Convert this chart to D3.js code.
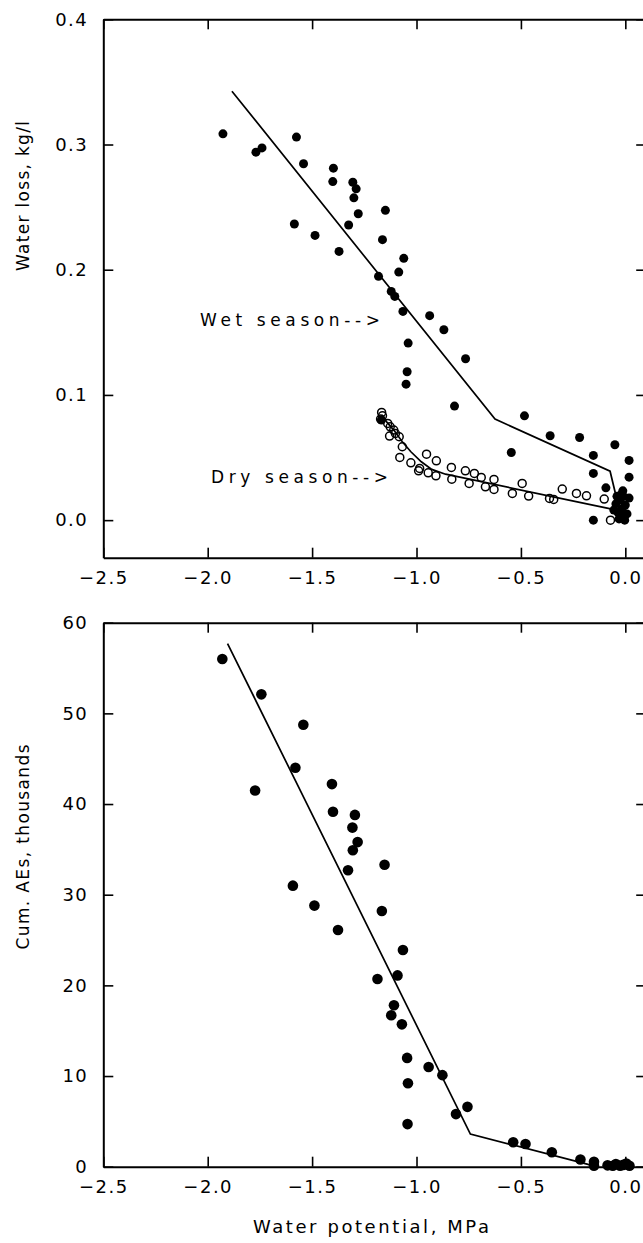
<!DOCTYPE html>
<html><head><meta charset="utf-8">
<script src="https://cdn.jsdelivr.net/npm/d3@7"></script>
<style>
body{margin:0;background:#fff}
svg{display:block}
text{font-family:"DejaVu Sans",sans-serif;fill:#000}
</style>
</head><body>
<svg id="chart" width="643" height="1243"></svg>
<script>
// ---------- data ----------
const xTickValues = [-2.5, -2.0, -1.5, -1.0, -0.5, 0.0];
const lossTickValues = [0.0, 0.1, 0.2, 0.3, 0.4];
const aeTickValues = [0, 10, 20, 30, 40, 50, 60];

// Top panel: wet season (filled) water potential (MPa) / water loss (kg/l)
const wetX = [-1.927,-1.769,-1.740,-1.575,-1.541,-1.398,-1.401,-1.305,-1.289,-1.300,
  -1.279,-1.149,-1.585,-1.325,-1.486,-1.163,-1.371,-1.061,-1.085,-1.182,
  -1.121,-1.104,-1.065,-0.937,-0.869,-1.040,-0.765,-1.045,-1.050,-0.818,
  -0.483,-0.360,-0.219,-0.546,-0.050,-0.153,0.018,-0.153,0.018,-0.093,
  -0.012,0.018,-0.153,-0.003,-1.168,
  -0.045,-0.035,-0.025,-0.015,-0.005,-0.030,0.000,-0.055,-0.010,0.008,-0.040,-0.020];
const wetY = [0.3085,0.2939,0.2973,0.3059,0.2846,0.2811,0.2704,0.2699,0.2646,0.2574,
  0.2447,0.2474,0.2365,0.2357,0.2274,0.2240,0.2146,0.2091,0.1981,0.1947,
  0.1827,0.1787,0.1667,0.1633,0.1521,0.1414,0.1289,0.1185,0.1086,0.0911,
  0.0833,0.0674,0.0660,0.0540,0.0602,0.0517,0.0477,0.0373,0.0343,0.0258,
  0.0234,0.0176,0.0,0.0,0.080,
  0.013,0.006,0.016,0.009,0.003,0.001,0.012,0.008,0.019,0.005,0.019,0.003];

// Top panel: dry season (open)
const dryX = [-1.167,-1.163,-1.172,-1.138,-1.126,-1.109,-1.101,-1.129,-1.083,-1.068,
  -1.080,-1.027,-0.985,-0.990,-0.952,-0.905,-0.944,-0.907,-0.833,-0.831,
  -0.766,-0.748,-0.723,-0.690,-0.629,-0.670,-0.629,-0.541,-0.494,-0.463,
  -0.363,-0.343,-0.302,-0.234,-0.186,-0.101,-0.071,-0.021];
const dryY = [0.0860,0.0833,0.0807,0.0772,0.0745,0.0719,0.0692,0.0671,0.0666,0.0586,
  0.0501,0.0458,0.0413,0.0394,0.0527,0.0474,0.0378,0.0354,0.0421,0.0327,
  0.0394,0.0293,0.0373,0.0341,0.0325,0.0266,0.0245,0.0213,0.0293,0.0192,
  0.0173,0.0165,0.0248,0.0213,0.0194,0.0168,0.0,0.020];

// Fitted lines, top panel
const wetFitX = [-1.884, -0.624, -0.073, -0.030];
const wetFitY = [0.3426, 0.0807, 0.0391, 0.0093];
const dryFitX = [-1.167,-1.143,-1.109,-1.068,-1.027,-0.977,-0.927,-0.861,-0.070];
const dryFitY = [0.0839,0.0785,0.0719,0.0626,0.0546,0.0466,0.0405,0.0367,0.0090];

// Bottom panel: cumulative AEs (thousands)
const aeX = [-1.930,-1.743,-1.542,-1.580,-1.773,-1.405,-1.400,-1.295,-1.307,-1.282,
  -1.305,-1.328,-1.153,-1.592,-1.489,-1.166,-1.376,-1.065,-1.187,-1.091,
  -1.108,-1.121,-1.070,-1.045,-0.942,-0.876,-1.041,-1.043,-0.811,-0.756,
  -0.537,-0.478,-0.352,-0.215,-0.150,-0.150,-0.085,-0.060,-0.045,-0.025,
  -0.010,0.005,0.020];
const aeY = [56.0,52.1,48.75,44.0,41.5,42.2,39.15,38.8,37.4,35.8,
  34.9,32.7,33.3,31.0,28.8,28.2,26.1,23.9,20.7,21.1,
  17.8,16.7,15.7,12.0,11.0,10.1,9.2,4.7,5.8,6.6,
  2.7,2.5,1.6,0.8,0.55,0.1,0.15,0.1,0.3,0.1,
  0.2,0.35,0.1];
const aeFitX = [-1.905, -0.742, -0.160];
const aeFitY = [57.7, 3.6, 0.15];

// ---------- drawing ----------
const svg = d3.select("#chart");
const X0 = 103.3, X1 = 646.2;

function zip(a, b) { return a.map((v, i) => [v, b[i]]); }

function panel(yDomain, yRange, yTicks, yFmt) {
  const x = d3.scaleLinear().domain([-2.5, 0.1]).range([X0, X1]);
  const y = d3.scaleLinear().domain(yDomain).range(yRange);
  const g = svg.append("g");
  const fmtX = d3.format(".1f");

  const bottom = g.append("g").attr("transform", `translate(0,${yRange[0]})`)
    .call(d3.axisBottom(x).tickValues(xTickValues).tickSize(-10).tickSizeOuter(0)
      .tickPadding(14).tickFormat(fmtX));
  const top = g.append("g").attr("transform", `translate(0,${yRange[1]})`)
    .call(d3.axisTop(x).tickValues(xTickValues).tickSize(-10).tickSizeOuter(0).tickFormat(""));
  const left = g.append("g").attr("transform", `translate(${X0},0)`)
    .call(d3.axisLeft(y).tickValues(yTicks).tickSize(-10).tickSizeOuter(0)
      .tickPadding(15).tickFormat(yFmt));
  const right = g.append("g").attr("transform", `translate(${X1},0)`)
    .call(d3.axisRight(y).tickValues(yTicks).tickSize(-10).tickSizeOuter(0).tickFormat(""));

  [bottom, top, left, right].forEach(a => {
    a.select(".domain").attr("stroke", "#000").attr("stroke-width", 2);
    a.selectAll(".tick line").attr("stroke", "#000").attr("stroke-width", 1.6);
    a.selectAll(".tick text").attr("font-size", 18).attr("font-family", '"DejaVu Sans",sans-serif')
      .attr("letter-spacing", "1.5px").attr("fill", "#000");
  });
  return { g, x, y };
}

// Top panel
const P1 = panel([-0.03, 0.4], [557.7, 19.3], lossTickValues, d3.format(".1f"));
const line1 = d3.line().x(d => P1.x(d[0])).y(d => P1.y(d[1]));
P1.g.append("path").datum(zip(wetFitX, wetFitY)).attr("d", line1)
  .attr("fill", "none").attr("stroke", "#000").attr("stroke-width", 1.7);
P1.g.append("path").datum(zip(dryFitX, dryFitY)).attr("d", line1)
  .attr("fill", "none").attr("stroke", "#000").attr("stroke-width", 1.7);
P1.g.append("g").selectAll("circle").data(zip(dryX, dryY)).join("circle")
  .attr("cx", d => P1.x(d[0])).attr("cy", d => P1.y(d[1])).attr("r", 4)
  .attr("fill", "none").attr("stroke", "#000").attr("stroke-width", 1.5);
P1.g.append("g").selectAll("circle").data(zip(wetX, wetY)).join("circle")
  .attr("cx", d => P1.x(d[0])).attr("cy", d => P1.y(d[1])).attr("r", 4.5)
  .attr("fill", "#000");

P1.g.append("text").attr("x", 200).attr("y", 326).attr("font-size", 17)
  .attr("textLength", 180).attr("lengthAdjust", "spacing").text("Wet season-->");
P1.g.append("text").attr("x", 211).attr("y", 483).attr("font-size", 17)
  .attr("textLength", 177).attr("lengthAdjust", "spacing").text("Dry season-->");

// Bottom panel
const P2 = panel([0, 60], [1166.7, 622.7], aeTickValues, d3.format("d"));
const line2 = d3.line().x(d => P2.x(d[0])).y(d => P2.y(d[1]));
P2.g.append("path").datum(zip(aeFitX, aeFitY)).attr("d", line2)
  .attr("fill", "none").attr("stroke", "#000").attr("stroke-width", 1.7);
P2.g.append("g").selectAll("circle").data(zip(aeX, aeY)).join("circle")
  .attr("cx", d => P2.x(d[0])).attr("cy", d => P2.y(d[1])).attr("r", 5.3)
  .attr("fill", "#000");

// Axis titles
svg.append("text").attr("x", 371).attr("y", 1233).attr("text-anchor", "middle")
  .attr("font-size", 18).attr("textLength", 236).attr("lengthAdjust", "spacing")
  .text("Water potential, MPa");
svg.append("text").attr("transform", "translate(29,196) rotate(-90)")
  .attr("text-anchor", "middle").attr("font-size", 17)
  .attr("textLength", 150).attr("lengthAdjust", "spacing").text("Water loss, kg/l");
svg.append("text").attr("transform", "translate(29,847) rotate(-90)")
  .attr("text-anchor", "middle").attr("font-size", 17)
  .attr("textLength", 205).attr("lengthAdjust", "spacing").text("Cum. AEs, thousands");
</script>
</body></html>
